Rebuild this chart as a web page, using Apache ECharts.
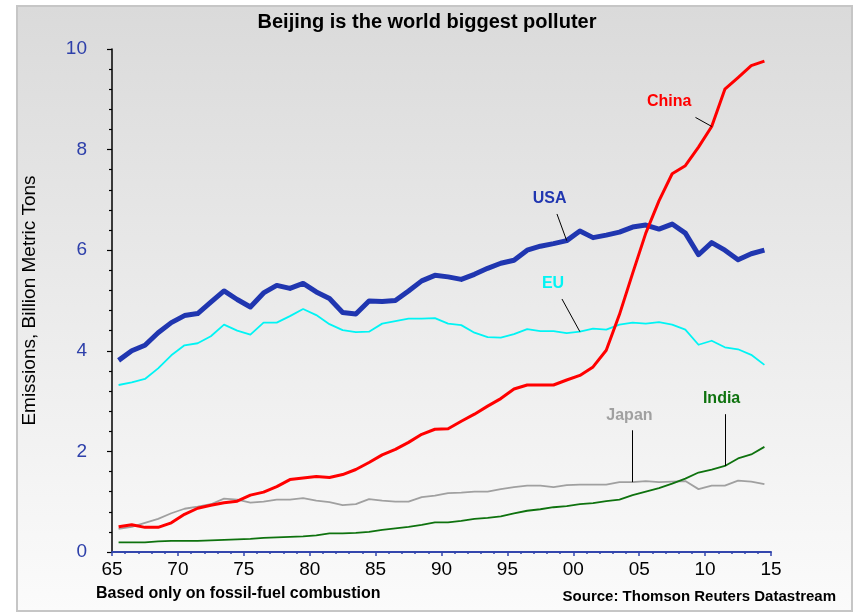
<!DOCTYPE html>
<html>
<head>
<meta charset="utf-8">
<script src="https://cdn.jsdelivr.net/npm/echarts@6/dist/echarts.min.js"></script>
<style>
  html, body { margin: 0; padding: 0; background: #ffffff; }
  #chart { width: 854px; height: 613px; }
</style>
</head>
<body>
<div id="chart"></div>
<script>
// Annual CO2 emissions from fossil-fuel combustion, billion metric tons
const years = [1965,1966,1967,1968,1969,1970,1971,1972,1973,1974,
               1975,1976,1977,1978,1979,1980,1981,1982,1983,1984,
               1985,1986,1987,1988,1989,1990,1991,1992,1993,1994,
               1995,1996,1997,1998,1999,2000,2001,2002,2003,2004,
               2005,2006,2007,2008,2009,2010,2011,2012,2013,2014];

const usa = [3.81,4.00,4.11,4.36,4.56,4.70,4.74,4.97,5.19,5.02,
             4.87,5.15,5.30,5.24,5.34,5.17,5.04,4.76,4.73,4.99,
             4.98,5.00,5.19,5.39,5.50,5.47,5.42,5.52,5.64,5.74,
             5.80,6.00,6.08,6.13,6.19,6.38,6.25,6.30,6.36,6.46,
             6.50,6.42,6.52,6.34,5.91,6.15,6.00,5.81,5.93,6.00];

const eu = [3.32,3.37,3.44,3.65,3.91,4.11,4.15,4.29,4.52,4.40,
            4.32,4.56,4.56,4.69,4.83,4.71,4.53,4.41,4.37,4.38,
            4.54,4.59,4.64,4.64,4.65,4.54,4.51,4.36,4.27,4.26,
            4.33,4.43,4.39,4.39,4.35,4.38,4.44,4.42,4.52,4.56,
            4.54,4.57,4.52,4.42,4.12,4.20,4.07,4.03,3.92,3.72];

const china = [0.50,0.54,0.49,0.49,0.58,0.75,0.87,0.93,0.98,1.01,
               1.13,1.19,1.30,1.44,1.47,1.50,1.48,1.54,1.64,1.78,
               1.93,2.04,2.18,2.34,2.44,2.45,2.60,2.74,2.90,3.05,
               3.24,3.32,3.32,3.32,3.42,3.51,3.68,4.01,4.72,5.54,
               6.34,6.98,7.52,7.68,8.05,8.46,9.20,9.43,9.67,9.76];

const japan = [0.46,0.50,0.58,0.66,0.77,0.86,0.90,0.95,1.06,1.04,
               0.98,1.00,1.04,1.04,1.07,1.02,0.99,0.93,0.95,1.05,
               1.02,1.00,1.00,1.09,1.12,1.17,1.18,1.20,1.20,1.25,
               1.29,1.32,1.32,1.29,1.33,1.34,1.34,1.34,1.39,1.39,
               1.41,1.39,1.40,1.41,1.25,1.32,1.32,1.42,1.40,1.35];

const india = [0.19,0.19,0.19,0.21,0.22,0.22,0.22,0.23,0.24,0.25,
               0.26,0.28,0.29,0.30,0.31,0.33,0.37,0.37,0.38,0.40,
               0.44,0.47,0.50,0.54,0.59,0.59,0.62,0.66,0.68,0.71,
               0.77,0.82,0.85,0.89,0.91,0.95,0.97,1.01,1.04,1.13,
               1.20,1.27,1.36,1.46,1.58,1.64,1.71,1.86,1.94,2.09];

const xTicks = [1965, 1970, 1975, 1980, 1985, 1990, 1995, 2000, 2005, 2010, 2015];

const FONT = '"Liberation Sans", Arial, sans-serif';

// each yearly value sits in the middle of its year
function pts(vals) {
  return vals.map((v, i) => [years[i] + 0.5, v]);
}
function at(vals, year) {
  const i = years.indexOf(year);
  return [years[i] + 0.5, vals[i]];
}

// callout: name, colour, label anchor, leader start, the year it points to
function callout(name, color, labelAt, leaderFrom, vals, year) {
  return {
    markPoint: {
      silent: true,
      symbol: 'circle',
      symbolSize: 0,
      itemStyle: { color: 'transparent' },
      label: {
        show: true, position: 'inside', formatter: name,
        color: color, fontFamily: FONT, fontWeight: 'bold', fontSize: 16
      },
      data: [{ coord: labelAt }]
    },
    markLine: {
      silent: true,
      symbol: ['none', 'none'],
      lineStyle: { color: '#000000', width: 1, type: 'solid' },
      label: { show: false },
      emphasis: { disabled: true },
      data: [[{ coord: leaderFrom }, { coord: at(vals, year) }]]
    }
  };
}

function line(name, vals, color, width, extra) {
  return Object.assign({
    name: name,
    type: 'line',
    data: pts(vals),
    showSymbol: false,
    symbol: 'none',
    animation: false,
    lineStyle: { color: color, width: width, join: 'round' },
    itemStyle: { color: color },
    emphasis: { disabled: true }
  }, extra || {});
}

const chart = echarts.init(document.getElementById('chart'), null, { renderer: 'canvas' });

chart.setOption({
  animation: false,
  backgroundColor: '#ffffff',
  title: {
    text: 'Beijing is the world biggest polluter',
    left: 'center',
    top: 7,
    textStyle: { fontFamily: FONT, fontWeight: 'bold', fontSize: 20, color: '#000000' }
  },
  graphic: [
    {
      type: 'rect', z: -10, silent: true,
      shape: { x: 17, y: 6, width: 835, height: 605 },
      style: {
        fill: new echarts.graphic.LinearGradient(0, 0, 0, 1, [
          { offset: 0, color: '#dadada' },
          { offset: 0.5, color: '#ebebeb' },
          { offset: 1, color: '#fbfbfb' }
        ]),
        stroke: '#c6c6c6', lineWidth: 2
      }
    },
    {
      type: 'text', silent: true, left: 96, top: 586,
      style: {
        text: 'Based only on fossil-fuel combustion',
        fontFamily: FONT, fontWeight: 'bold', fontSize: 16, fill: '#000000'
      }
    },
    {
      type: 'text', silent: true, right: 18, top: 589,
      style: {
        text: 'Source: Thomson Reuters Datastream',
        fontFamily: FONT, fontWeight: 'bold', fontSize: 15, fill: '#000000'
      }
    }
  ],
  grid: { left: 112, right: 83, top: 49, bottom: 61, containLabel: false },
  xAxis: {
    type: 'value',
    min: xTicks[0],
    max: xTicks[xTicks.length - 1],
    interval: 5,
    axisLine: { show: true, lineStyle: { color: '#3346ad', width: 2 } },
    axisTick: { show: true, length: 4, lineStyle: { color: '#3346ad', width: 1.5 } },
    minorTick: { show: true, splitNumber: 5, length: 2, lineStyle: { color: '#3346ad', width: 1.5 } },
    splitLine: { show: false },
    axisLabel: {
      color: '#000000', fontFamily: FONT, fontSize: 19, margin: 8,
      formatter: v => String(v % 100).padStart(2, '0')
    }
  },
  yAxis: {
    type: 'value',
    min: 0, max: 10, interval: 2,
    name: 'Emissions, Billion Metric Tons',
    nameLocation: 'middle',
    nameGap: 73,
    nameTextStyle: { fontFamily: FONT, fontSize: 19, color: '#000000' },
    axisLine: { show: true, lineStyle: { color: '#000000', width: 1.5 } },
    axisTick: { show: true, length: 5, lineStyle: { color: '#000000', width: 1.2 } },
    minorTick: { show: true, splitNumber: 5, length: 3, lineStyle: { color: '#000000', width: 1.2 } },
    splitLine: { show: false },
    minorSplitLine: { show: false },
    axisLabel: { color: '#2e40aa', fontFamily: FONT, fontSize: 19, margin: 25 }
  },
  series: [
    line('EU', eu, '#00f4f4', 1.8,
      callout('EU', '#00f4f4', [1998.46, 5.34], [1999.14, 5.03], eu, 2000)),
    line('Japan', japan, '#a0a0a0', 1.8,
      callout('Japan', '#a0a0a0', [2004.26, 2.72], [2004.5, 2.42], japan, 2004)),
    line('India', india, '#0e720e', 1.8,
      callout('India', '#0e720e', [2011.25, 3.04], [2011.5, 2.74], india, 2011)),
    line('USA', usa, '#2036b0', 5,
      callout('USA', '#2036b0', [1998.21, 7.03], [1998.76, 6.72], usa, 1999)),
    line('China', china, '#ff0000', 3,
      callout('China', '#ff0000', [2007.27, 8.95], [2009.27, 8.64], china, 2010))
  ]
});
</script>
</body>
</html>
